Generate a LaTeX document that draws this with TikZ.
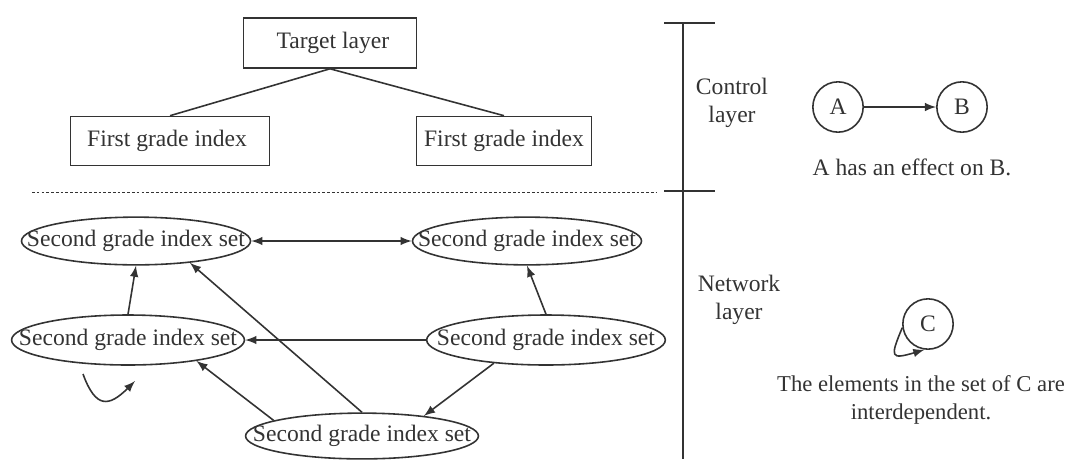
\documentclass[tikz,border=0pt]{standalone}
\usepackage{fontspec}
\setmainfont{Liberation Serif}
\usetikzlibrary{shapes,arrows,positioning,calc}

\newcommand{\sgis}{\makebox[0pt]{Second grade index set}}

\tikzset{
  box/.style={draw, rectangle, minimum height=0.76cm},
  idxset/.style={draw, ellipse, inner sep=0pt, minimum width=3.55cm, minimum height=0.74cm},
  ring/.style={draw, circle, minimum size=0.78cm, inner sep=0pt}
}

\begin{document}
\begin{tikzpicture}[x=0.0155cm, y=-0.0155cm, >=latex, line width=0.7pt, color=black!80,
                    font=\fontsize{10.4}{12.5}\selectfont]
            \useasboundingbox (0,0) rectangle (1070,459);
            % Control layer
            \node[box, minimum width=2.68cm, minimum height=0.775cm] (T) at (330,43) {\ Target layer};
            \node[box, minimum width=3.08cm] (F1) at (170,141) {First grade index\ \ };
            \node[box, minimum width=2.70cm] (F2) at (504,141) {First grade index};
            \draw (T.south) -- (F1.north);
            \draw (T.south) -- (F2.north);
            \draw[line width=0.4pt, dash pattern=on 1.2pt off 0.9pt] (32,192) -- (657,192);

            % Network layer
            \node[idxset] (S1) at (136,241) {\sgis};
            \node[idxset] (S2) at (527,241) {\sgis};
            \node[idxset, minimum width=3.61cm, minimum height=0.775cm] (S3) at (128,340) {\sgis};
            \node[idxset, minimum width=3.70cm, minimum height=0.775cm] (S4) at (546,340) {\sgis};
            \node[idxset, minimum width=3.61cm, minimum height=0.71cm] (S5) at (362,436) {\sgis};
            \draw[<->] (S1) -- (S2);
            \draw[->] (S3.north) -- (S1.south);
            \draw[->] (S4.north) -- (S2.south);
            \draw[->] (S4.west) -- (S3.east);
            \draw[->] (S4.204) -- (S5.18);
            \draw[->] (S5.170) -- (S3.-17);
            \draw[->] (S5.north) -- (S1.-22);
            \coordinate (L1) at (83,374);
            \coordinate (L2) at (135,381);
            \draw[->] (L1) to[out=-70, in=-135, looseness=1.8] (L2);

            % Layer scale
            \draw (683,23) -- (683,459);
            \draw (664,23) -- (715,23);
            \draw (664,191) -- (715,191);
            \node[align=center] (CL) at (732,103) {Control\\layer};
            \node[align=center] (NL) at (739,300) {Network\\layer};

            % Legend
            \node[ring] (A) at (838,107) {A};
            \node[ring] (B) at (962,107) {B};
            \draw[->] (A) -- (B);
            \node (AB) at (912,167) {A has an effect on B.};
            \node[ring] (C) at (928,324) {C};
            \draw[->] (C.188) .. controls (890,357) and (890,360) .. (C.262);
            \node[align=center, font=\fontsize{10}{12.5}\selectfont] (CC) at (921,400)
                {The elements in the set of C are\\interdependent.};
\end{tikzpicture}
\end{document}
